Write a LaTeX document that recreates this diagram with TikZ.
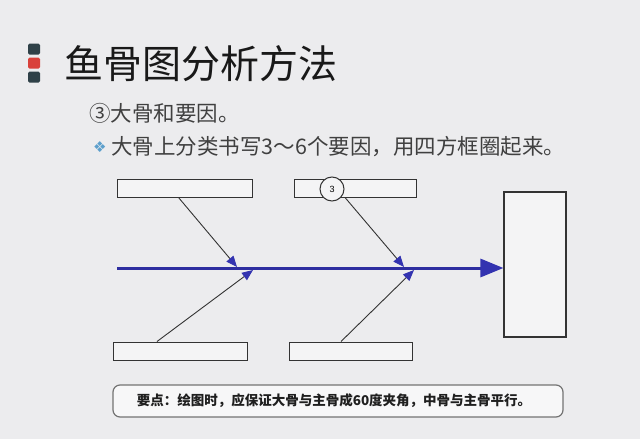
\documentclass[tikz,border=0pt]{standalone}
\usepackage{fontspec}
\usetikzlibrary{arrows.meta,calc}
\newfontfamily\cjk{Noto Sans CJK SC}
\newfontfamily\dvs{DejaVu Sans}
\newfontfamily\lsans{Liberation Sans}
\definecolor{bgc}{HTML}{ECECEE}
\definecolor{spine}{HTML}{2E2EA0}
\definecolor{tipc}{HTML}{3333B0}
\definecolor{boxline}{HTML}{333333}
\definecolor{sqdark}{HTML}{2F4148}
\definecolor{sqred}{HTML}{D9413B}
\definecolor{diam}{HTML}{5C9FCC}
\tikzset{
  sq/.style={fill=#1, rounded corners=1.5pt, minimum width=12pt, minimum height=11pt, inner sep=0pt},
  labelbox/.style={draw=boxline, line width=1pt, fill=bgc!60!white, minimum height=18pt, inner sep=0pt},
  bone/.style={draw=boxline, line width=0.9pt, -{Triangle[length=11pt,width=9pt,fill=tipc,color=tipc]}},
  mainbone/.style={draw=spine, line width=3pt, -{Triangle[length=23pt,width=18pt,fill=tipc,color=tipc]}},
  numcirc/.style={circle, draw=boxline, line width=1pt, fill=bgc!60!white, minimum size=24pt, inner sep=0pt, font=\lsans\fontsize{9}{10}\selectfont},
}
\begin{document}
\begin{tikzpicture}[x=1pt,y=-1pt]
\fill[bgc] (0,0) rectangle (640,439);
\useasboundingbox (0,0) rectangle (640,439);
% title
\node[sq=sqdark] (s1) at (34,49) {};
\node[sq=sqred] (s2) at (34,63) {};
\node[sq=sqdark] (s3) at (34,77) {};
\node[anchor=west, text=black!90, font=\cjk\fontsize{39}{41}\selectfont, inner sep=0pt] (title) at (64,64) {鱼骨图分析方法};
\node[anchor=west, text=black!75, font=\cjk\fontsize{21.5}{24}\selectfont, inner sep=0pt] (l1) at (89,113) {③大骨和要因。};
\node[anchor=west, text=diam, font=\dvs\fontsize{15}{16}\selectfont, inner sep=0pt] (dm) at (93,147) {❖};
\node[anchor=west, text=black!75, font=\cjk\fontsize{21.5}{24}\selectfont, inner sep=0pt] (l2) at (111,147) {大骨上分类书写3～6个要因，用四方框圈起来。};
% boxes
\node[labelbox, minimum width=135pt] (tl) at (184.5,188) {};
\node[labelbox, minimum width=122pt] (tr) at (355,188) {};
\node[labelbox, minimum width=134pt] (bl) at (180,351) {};
\node[labelbox, minimum width=123pt] (br) at (350.5,351) {};
\node[draw=boxline, line width=1.1pt, fill=bgc!60!white, minimum width=62pt, minimum height=145pt, inner sep=0pt] (rb) at (535,264.5) {};
% spine
\coordinate (sp) at (117,268);
\draw[mainbone] (sp) -- (sp -| rb.west);
% junctions
\coordinate (j1) at (237,267);
\coordinate (j2) at (404,267);
\coordinate (k1) at (253,270);
\coordinate (k2) at (414,270);
\draw[bone] ([xshift=-6pt]tl.south) -- (j1);
\draw[bone] ([xshift=-10pt]tr.south) -- (j2);
\draw[bone] ([xshift=-23pt]bl.north) -- (k1);
\draw[bone] ([xshift=-9.5pt]br.north) -- (k2);
\node[numcirc] (c3) at (332,189) {3};
% callout
\node[draw=black!55, line width=1.2pt, rounded corners=7pt, fill=white!60!bgc, minimum width=450pt, minimum height=32pt, inner sep=0pt] (note) at (338,401) {};
\node[font=\cjk\bfseries\fontsize{13.5}{16}\selectfont, text=black!88, inner sep=0pt] (notetext) at (334,401) {要点：绘图时，应保证大骨与主骨成60度夹角，中骨与主骨平行。};
\end{tikzpicture}
\end{document}
